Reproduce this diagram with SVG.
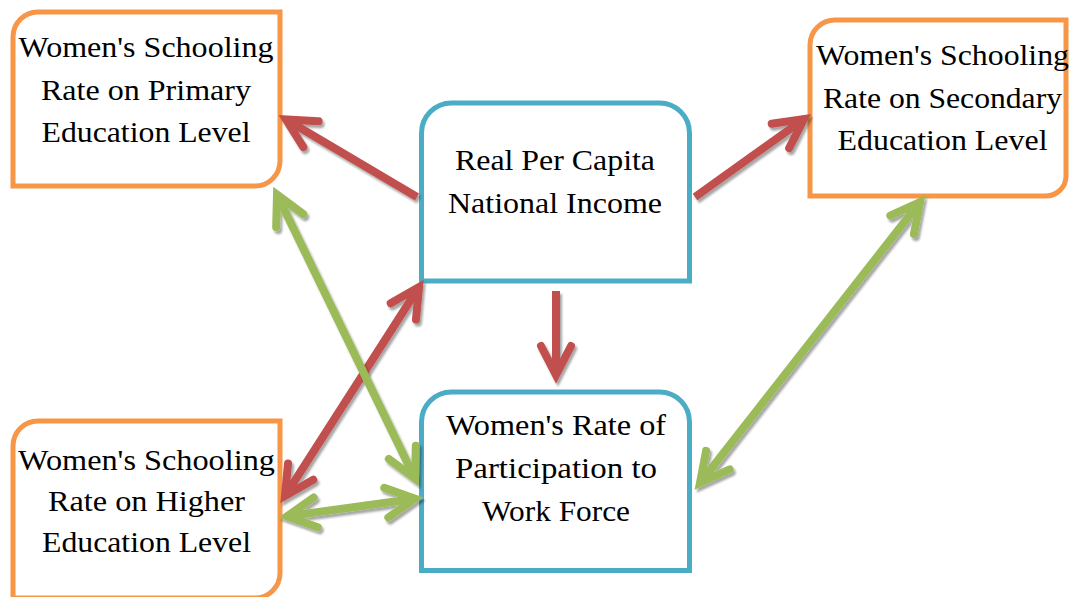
<svg xmlns="http://www.w3.org/2000/svg" width="1070" height="597" viewBox="0 0 1070 597">
  <style>
    .box-o { fill: #ffffff; stroke: #F79646; stroke-width: 5; }
    .box-b { fill: #ffffff; stroke: #4BACC6; stroke-width: 5; }
    .lbl { font-family: "Liberation Serif", "DejaVu Serif", serif; font-size: 30px; fill: #000000; text-anchor: middle; }
    .red { stroke: #C0504D; stroke-width: 8; fill: none; filter: url(#shadow); }
    .green { stroke: #9BBB59; stroke-width: 8; fill: none; filter: url(#shadow); }
  </style>
  <defs>
    <filter id="shadow" filterUnits="userSpaceOnUse" x="0" y="0" width="1070" height="597">
      <feDropShadow dx="2" dy="3" stdDeviation="1" flood-color="#000000" flood-opacity="0.35"/>
    </filter>
    <marker id="head-red" markerUnits="userSpaceOnUse" viewBox="-40 -20 50 40" markerWidth="50" markerHeight="40" refX="0" refY="0" orient="auto-start-reverse" overflow="visible">
      <path d="M-29,-15 L0,0 L-29,15" fill="none" stroke="#C0504D" stroke-width="8" stroke-linecap="round" stroke-linejoin="miter"/>
    </marker>
    <marker id="head-green" markerUnits="userSpaceOnUse" viewBox="-40 -20 50 40" markerWidth="50" markerHeight="40" refX="0" refY="0" orient="auto-start-reverse" overflow="visible">
      <path d="M-29,-15 L0,0 L-29,15" fill="none" stroke="#9BBB59" stroke-width="8" stroke-linecap="round" stroke-linejoin="miter"/>
    </marker>
  </defs>

  <rect width="1070" height="597" fill="#ffffff"/>

  <g id="primary">
    <path class="box-o" d="M13,37 A25,25 0 0 1 38,12 H280 V161 A25,25 0 0 1 255,186 H13 Z"/>
    <text class="lbl" x="146" y="57" textLength="255" lengthAdjust="spacingAndGlyphs">Women's Schooling</text>
    <text class="lbl" x="146" y="99.5" textLength="210" lengthAdjust="spacingAndGlyphs">Rate on Primary</text>
    <text class="lbl" x="146" y="142" textLength="209" lengthAdjust="spacingAndGlyphs">Education Level</text>
  </g>

  <g id="secondary">
    <path class="box-o" d="M810,45 A25,25 0 0 1 835,20 H1066 V176 A20,20 0 0 1 1046,196 H810 Z"/>
    <text class="lbl" x="942.5" y="65" textLength="253" lengthAdjust="spacingAndGlyphs">Women's Schooling</text>
    <text class="lbl" x="942.5" y="108" textLength="239" lengthAdjust="spacingAndGlyphs">Rate on Secondary</text>
    <text class="lbl" x="942.5" y="150" textLength="210" lengthAdjust="spacingAndGlyphs">Education Level</text>
  </g>

  <g id="higher">
    <path class="box-o" d="M13,446 A25,25 0 0 1 38,421 H280 V573 A25,25 0 0 1 255,598 H13 Z"/>
    <text class="lbl" x="146.5" y="470" textLength="257" lengthAdjust="spacingAndGlyphs">Women's Schooling</text>
    <text class="lbl" x="146.5" y="511" textLength="197" lengthAdjust="spacingAndGlyphs">Rate on Higher</text>
    <text class="lbl" x="146.5" y="552" textLength="209" lengthAdjust="spacingAndGlyphs">Education Level</text>
  </g>

  <g id="income">
    <path class="box-b" d="M421.5,281 V133 A30,30 0 0 1 451.5,103 H659.5 A30,30 0 0 1 689.5,133 V281 Z"/>
    <text class="lbl" x="555" y="170" textLength="200" lengthAdjust="spacingAndGlyphs">Real Per Capita</text>
    <text class="lbl" x="555" y="213" textLength="214" lengthAdjust="spacingAndGlyphs">National Income</text>
  </g>

  <g id="workforce">
    <path class="box-b" d="M421.5,570.5 V422 A30,30 0 0 1 451.5,392 H659.5 A30,30 0 0 1 689.5,422 V570.5 Z"/>
    <text class="lbl" x="556" y="435" textLength="220" lengthAdjust="spacingAndGlyphs">Women's Rate of</text>
    <text class="lbl" x="556" y="478" textLength="202" lengthAdjust="spacingAndGlyphs">Participation to</text>
    <text class="lbl" x="556" y="521" textLength="148" lengthAdjust="spacingAndGlyphs">Work Force</text>
  </g>

  <g id="connectors">
    <!-- income effects (red) -->
    <path class="red" d="M417,197 L286,119.5" marker-end="url(#head-red)"/>
    <path class="red" d="M695,197 L804,119" marker-end="url(#head-red)"/>
    <path class="red" d="M556,291 L556,375" marker-end="url(#head-red)"/>
    <path class="red" d="M419,287 L285,496" marker-start="url(#head-red)" marker-end="url(#head-red)"/>
    <!-- two-way links with the work force rate (green) -->
    <path class="green" d="M277,194.5 L415,478.5" marker-start="url(#head-green)" marker-end="url(#head-green)"/>
    <path class="green" d="M287,516.3 L415,498.7" marker-start="url(#head-green)" marker-end="url(#head-green)"/>
    <path class="green" d="M920,202 L700,483" marker-start="url(#head-green)" marker-end="url(#head-green)"/>
  </g>
</svg>
